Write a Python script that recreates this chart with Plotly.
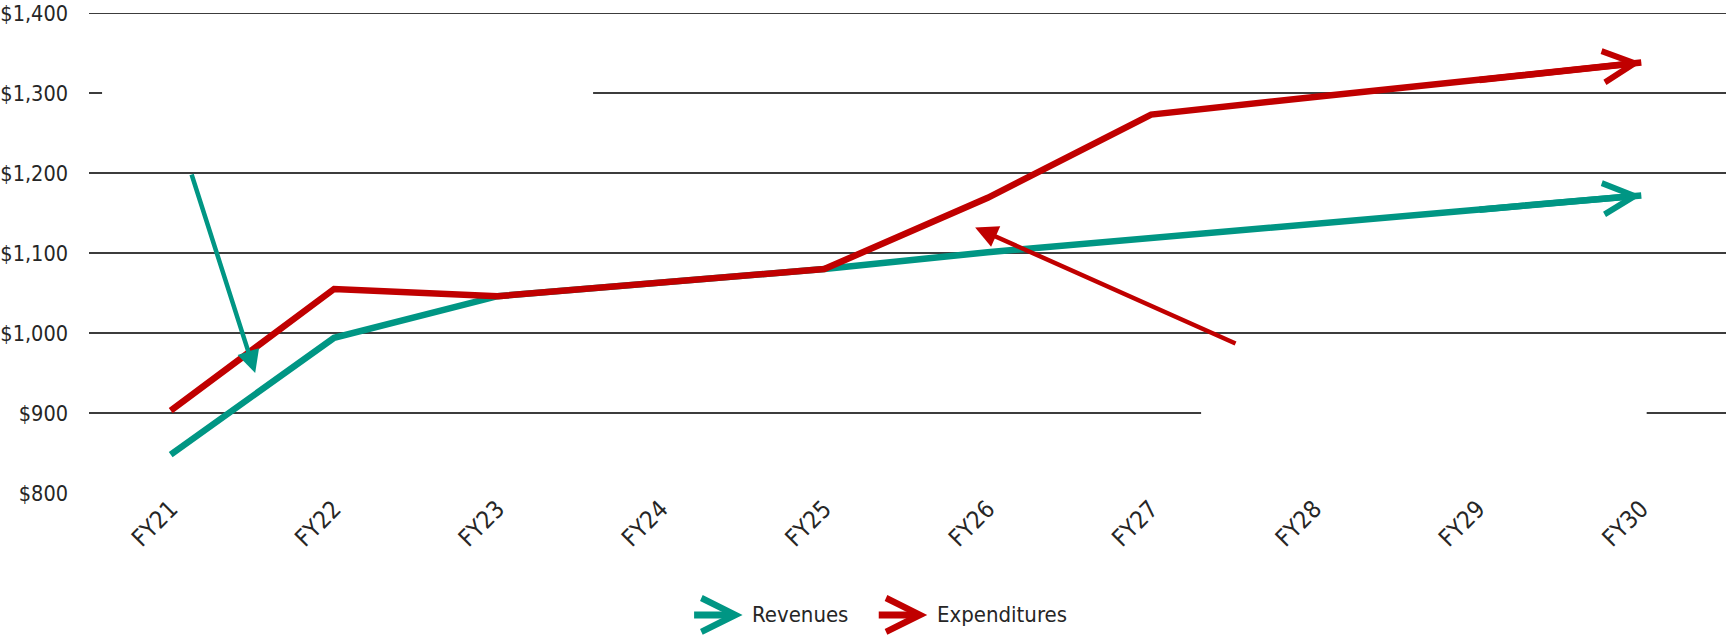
import plotly.graph_objects as go

# ---- data ----
categories = ["FY21", "FY22", "FY23", "FY24", "FY25", "FY26", "FY27", "FY28", "FY29", "FY30"]
revenues = [848, 994, 1046, 1063, 1080, 1101, 1119, 1136, 1154, 1172]
expenditures = [903, 1055, 1046, 1063, 1080, 1169, 1273, 1295, 1316, 1338]
y_ticks = [800, 900, 1000, 1100, 1200, 1300, 1400]
y_tick_labels = ["$800", "$900", "$1,000", "$1,100", "$1,200", "$1,300", "$1,400"]
series_names = ["Revenues", "Expenditures"]

# ---- style ----
TEAL = "#009684"
RED = "#C00000"
GRID = "#3c3c3c"
TEXT = "#262626"
FONT = "DejaVu Sans Condensed, Liberation Sans Narrow, Arial Narrow, Liberation Sans, sans-serif"

# callout arrows (category index, value): tail -> tip
teal_callout = dict(tail=(0.125, 1200), tip=(0.517, 950))
red_callout = dict(tail=(6.526, 986), tip=(4.923, 1132))

# blank (white) boxes hiding parts of the gridlines
blank_boxes = [(-0.42, 2.585, 1230, 1370), (6.306, 9.033, 850, 986)]

fig = go.Figure()
for name, vals, col in [(series_names[0], revenues, TEAL), (series_names[1], expenditures, RED)]:
    fig.add_trace(go.Scatter(x=categories, y=vals, mode="lines", name=name,
                             line=dict(color=col, width=6.5), showlegend=False))

shapes = []
for v in y_ticks[1:]:
    shapes.append(dict(type="line", xref="paper", yref="y", x0=0, x1=1.002, y0=v, y1=v,
                       line=dict(color=GRID, width=2), layer="below"))
for (x0, x1, y0, y1) in blank_boxes:
    shapes.append(dict(type="rect", xref="x", yref="y", x0=x0, x1=x1, y0=y0, y1=y1,
                       fillcolor="white", line=dict(width=0), layer="below"))

annotations = []
# series end arrowheads
for vals, col in [(revenues, TEAL), (expenditures, RED)]:
    annotations.append(dict(x=len(categories) - 1, y=vals[-1], ax=len(categories) - 2, ay=vals[-2],
                            xref="x", yref="y", axref="x", ayref="y", text="", showarrow=True,
                            arrowhead=5, arrowsize=0.95, arrowwidth=6.5, arrowcolor=col))
# callouts
for c, col, w in [(teal_callout, TEAL, 4.5), (red_callout, RED, 4.5)]:
    annotations.append(dict(x=c["tip"][0], y=c["tip"][1], ax=c["tail"][0], ay=c["tail"][1],
                            xref="x", yref="y", axref="x", ayref="y", text="", showarrow=True,
                            arrowhead=2, arrowsize=1.0, arrowwidth=w, arrowcolor=col))
# custom legend
legend_items = [(series_names[0], TEAL, 0.400), (series_names[1], RED, 0.513)]
for name, col, xp in legend_items:
    annotations.append(dict(x=xp, y=-0.254, xref="paper", yref="paper", ax=-50, ay=0,
                            text="", showarrow=True, arrowhead=5, arrowsize=0.95,
                            arrowwidth=7, arrowcolor=col))
    annotations.append(dict(x=xp + 0.0045, y=-0.254, xref="paper", yref="paper", text=name,
                            showarrow=False, xanchor="left", yanchor="middle",
                            font=dict(family=FONT, size=22, color=TEXT)))

fig.update_layout(
    width=1726, height=635,
    margin=dict(l=89, r=3, t=13, b=142),
    paper_bgcolor="white", plot_bgcolor="white",
    font=dict(family=FONT, size=22, color=TEXT),
    shapes=shapes, annotations=annotations, showlegend=False,
    xaxis=dict(type="category", range=[-0.5, 9.5], showgrid=False, zeroline=False,
               showline=False, ticks="", tickangle=-45, tickfont=dict(size=24),
               ticklabelstandoff=-4, automargin=False),
    yaxis=dict(range=[800, 1400], tickvals=y_ticks, ticktext=y_tick_labels, showgrid=False,
               zeroline=False, showline=False, ticks="", ticklabelstandoff=20,
               tickfont=dict(size=21.5), automargin=False),
)

fig.write_html("out.html", config={"displayModeBar": False},
               post_script="document.body.style.margin='0';document.body.style.overflow='hidden';")
